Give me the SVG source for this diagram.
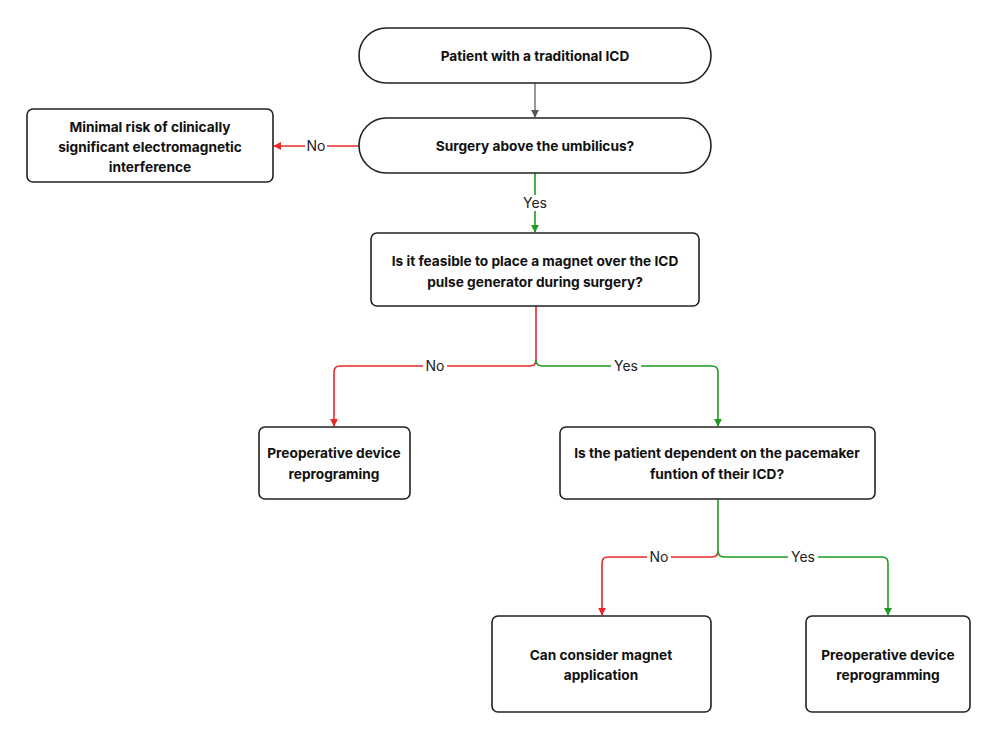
<svg xmlns="http://www.w3.org/2000/svg" width="1000" height="742" viewBox="0 0 1000 742">
<style>
.n{fill:#fff;stroke:#222;stroke-width:1.6}
.t{font-family:Inter,"Liberation Sans",sans-serif;font-weight:700;font-size:13.7px;fill:#111;text-anchor:middle}
.l{font-family:Inter,"Liberation Sans",sans-serif;font-size:14px;fill:#222;text-anchor:middle}
.r{fill:none;stroke:#e8282b;stroke-width:1.6}
.g{fill:none;stroke:#1f9a22;stroke-width:1.6}
.k{fill:none;stroke:#555;stroke-width:1.2}
.bg{fill:#fff}
</style>
<defs>
<marker id="ar" viewBox="0 0 10 10" refX="9" refY="5" markerWidth="8" markerHeight="8" markerUnits="userSpaceOnUse" orient="auto"><path d="M0,0L10,5L0,10z" fill="#e8282b"/></marker>
<marker id="ag" viewBox="0 0 10 10" refX="9" refY="5" markerWidth="8" markerHeight="8" markerUnits="userSpaceOnUse" orient="auto"><path d="M0,0L10,5L0,10z" fill="#1f9a22"/></marker>
<marker id="ak" viewBox="0 0 10 10" refX="9" refY="5" markerWidth="8" markerHeight="8" markerUnits="userSpaceOnUse" orient="auto"><path d="M0,0L10,5L0,10z" fill="#555"/></marker>
</defs>
<rect width="1000" height="742" fill="#fff"/>
<g id="connectors">
<path class="k" d="M535,83V117" marker-end="url(#ak)"/>
<path class="r" d="M359,146H274" marker-end="url(#ar)"/>
<path class="g" d="M535,173V232" marker-end="url(#ag)"/>
<path class="r" d="M536,306V360Q536,366 530,366H340Q334,366 334,372V426" marker-end="url(#ar)"/>
<path class="g" d="M536,360Q536,366 542,366H712Q718,366 718,372V426" marker-end="url(#ag)"/>
<path class="g" d="M718,499V551"/>
<path class="r" d="M718,551Q718,557 712,557H608Q602,557 602,563V615" marker-end="url(#ar)"/>
<path class="g" d="M718,551Q718,557 724,557H882Q888,557 888,563V615" marker-end="url(#ag)"/>
<rect class="bg" x="305" y="138" width="22" height="16"/>
<text class="l" x="316" y="151">No</text>
<rect class="bg" x="520" y="195" width="30" height="16"/>
<text class="l" x="535" y="208">Yes</text>
<rect class="bg" x="423" y="358" width="24" height="16"/>
<text class="l" x="435" y="371">No</text>
<rect class="bg" x="611" y="358" width="30" height="16"/>
<text class="l" x="626" y="371">Yes</text>
<rect class="bg" x="647" y="549" width="24" height="16"/>
<text class="l" x="659" y="562">No</text>
<rect class="bg" x="788" y="549" width="30" height="16"/>
<text class="l" x="803" y="562">Yes</text>
</g>
<g id="n1"><rect class="n" x="359" y="28" width="352" height="55" rx="27.5"/><text class="t" x="535" y="61">Patient with a traditional ICD</text></g>
<g id="n2"><rect class="n" x="359" y="118" width="352" height="55" rx="27.5"/><text class="t" x="535" y="151">Surgery above the umbilicus?</text></g>
<g id="n3"><rect class="n" x="27" y="109" width="246" height="73" rx="6"/><text class="t" x="150" y="132">Minimal risk of clinically</text><text class="t" x="150" y="152">significant electromagnetic</text><text class="t" x="150" y="172">interference</text></g>
<g id="n4"><rect class="n" x="371" y="233" width="328" height="73" rx="6"/><text class="t" x="535" y="266">Is it feasible to place a magnet over the ICD</text><text class="t" x="535" y="287">pulse generator during surgery?</text></g>
<g id="n5"><rect class="n" x="259" y="427" width="151" height="72" rx="6"/><text class="t" x="334" y="458">Preoperative device</text><text class="t" x="334" y="479">reprograming</text></g>
<g id="n6"><rect class="n" x="560" y="427" width="315" height="72" rx="6"/><text class="t" x="717" y="458">Is the patient dependent on the pacemaker</text><text class="t" x="717" y="479">funtion of their ICD?</text></g>
<g id="n7"><rect class="n" x="492" y="616" width="219" height="96" rx="6"/><text class="t" x="601" y="660">Can consider magnet</text><text class="t" x="601" y="680">application</text></g>
<g id="n8"><rect class="n" x="806" y="616" width="164" height="96" rx="6"/><text class="t" x="888" y="660">Preoperative device</text><text class="t" x="888" y="680">reprogramming</text></g>
</svg>
